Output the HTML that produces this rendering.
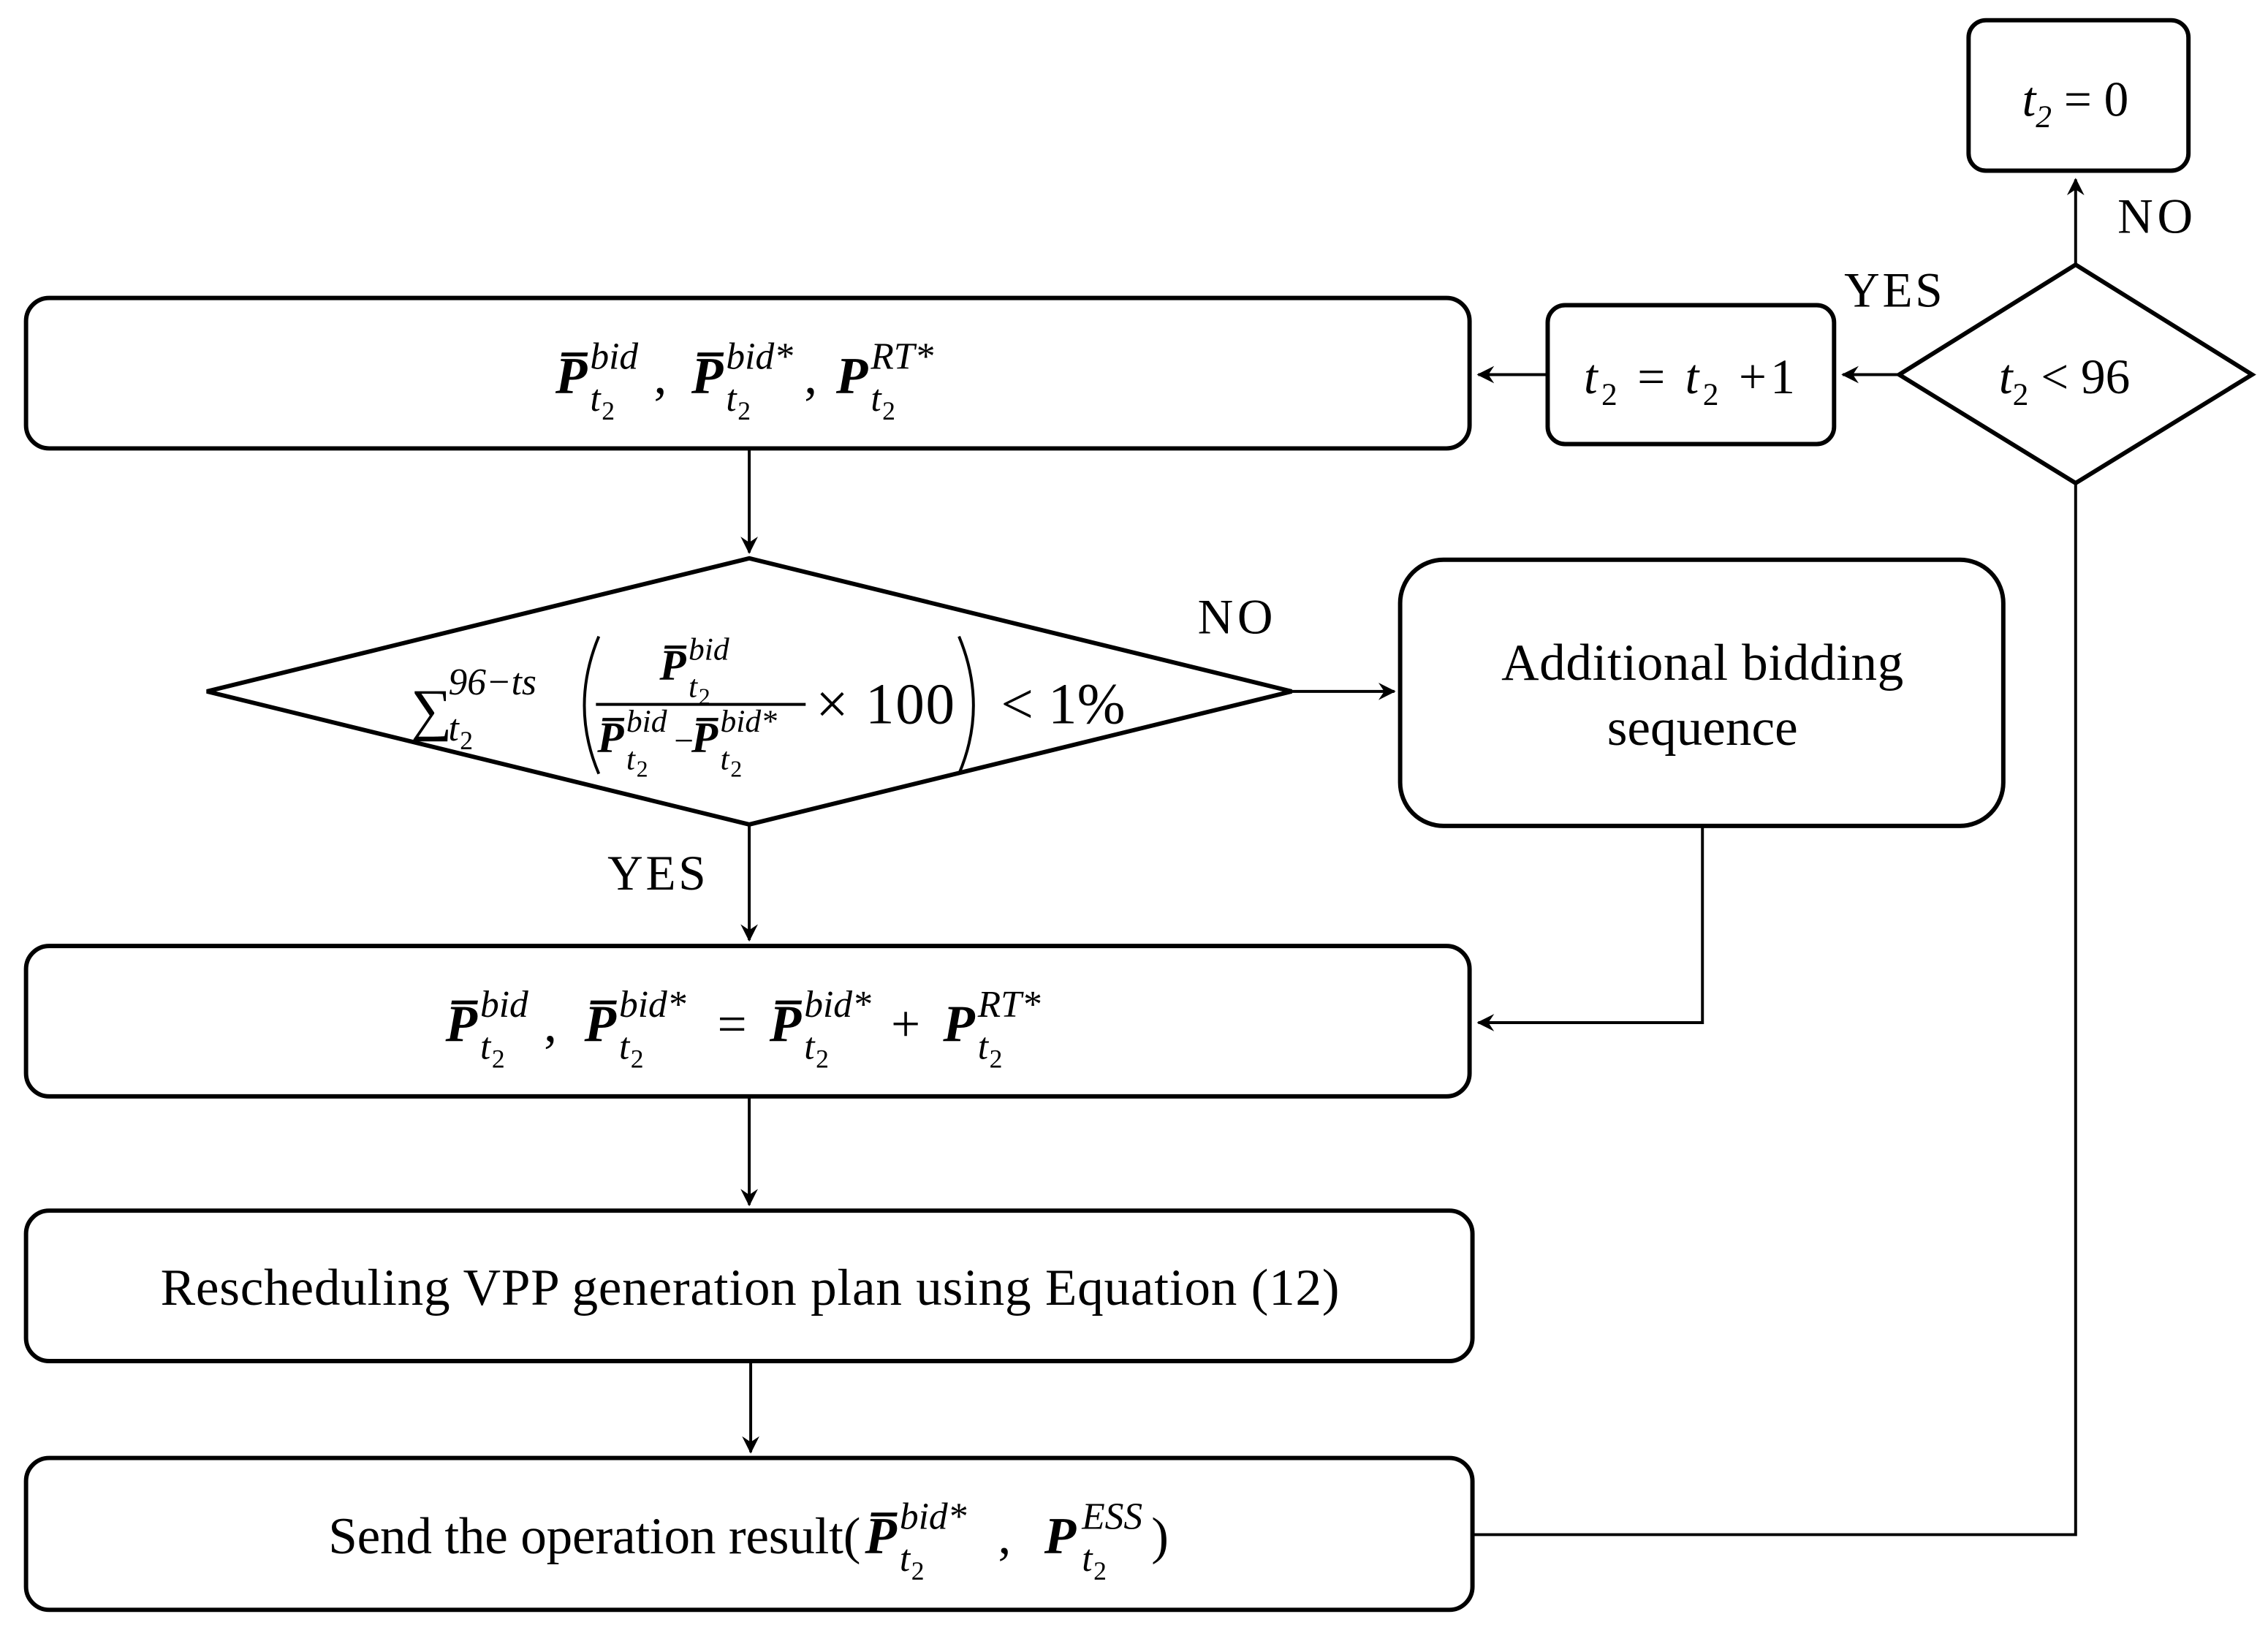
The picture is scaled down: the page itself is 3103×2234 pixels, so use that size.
<!DOCTYPE html>
<html><head><meta charset="utf-8"><style>
html,body{margin:0;padding:0;background:#fff;}
svg{display:block;}
text{font-family:"Liberation Serif",serif;fill:#000;}
.b{font-weight:bold;font-style:italic;}
.i{font-style:italic;}
</style></head><body>
<svg width="3103" height="2234" viewBox="0 0 1568 1129" preserveAspectRatio="none" xmlns="http://www.w3.org/2000/svg">
<defs>
<marker id="a" markerWidth="12" markerHeight="12" refX="11" refY="6" orient="auto" markerUnits="userSpaceOnUse">
<path d="M0,0 L12,6 L0,12 L4,6 Z" fill="#000"/>
</marker>
</defs>
<g fill="#fff" stroke="#000" stroke-width="3">
<rect x="1361" y="14" width="152" height="104" rx="12"/>
<polygon points="1435,183 1557,259 1435,334 1313,259"/>
<rect x="1070" y="211" width="198" height="96" rx="12"/>
<rect x="18" y="206" width="998" height="104" rx="16"/>
<polygon points="518,386 893,478 518,570 143,478"/>
<rect x="968" y="387" width="417" height="184" rx="30"/>
<rect x="18" y="654" width="998" height="104" rx="16"/>
<rect x="18" y="837" width="1000" height="104" rx="16"/>
<rect x="18" y="1008" width="1000" height="105" rx="16"/>
</g>
<g stroke="#000" stroke-width="2" fill="none">
<line x1="1435" y1="183" x2="1435" y2="124" marker-end="url(#a)"/>
<line x1="1313" y1="259" x2="1274" y2="259" marker-end="url(#a)"/>
<line x1="1070" y1="259" x2="1022" y2="259" marker-end="url(#a)"/>
<line x1="518" y1="310" x2="518" y2="382" marker-end="url(#a)"/>
<line x1="893" y1="478" x2="964" y2="478" marker-end="url(#a)"/>
<line x1="518" y1="570" x2="518" y2="650" marker-end="url(#a)"/>
<polyline points="1177,571 1177,707 1022,707" marker-end="url(#a)"/>
<line x1="518" y1="758" x2="518" y2="833" marker-end="url(#a)"/>
<line x1="519" y1="941" x2="519" y2="1004" marker-end="url(#a)"/>
<polyline points="1018,1061 1435,1061 1435,334"/>
<path d="M414,440 Q394,488 414,535"/>
<path d="M663,440 Q683,488 663,535"/>
<line x1="412" y1="487" x2="557" y2="487"/>
</g>
<text x="1464" y="161" font-size="34" textLength="52">NO</text>
<text x="1275" y="212" font-size="34" textLength="68">YES</text>
<text x="828" y="438" font-size="34" textLength="52">NO</text>
<text x="420" y="615" font-size="34" textLength="68">YES</text>

<text x="1398" y="80" font-size="34" class="i">t<tspan font-size="22" dy="8">2</tspan><tspan dy="-8" font-style="normal"> = 0</tspan></text>
<text x="1382" y="272" font-size="34" class="i">t<tspan font-size="22" dy="8" font-style="normal">2</tspan><tspan dy="-8" font-style="normal"> &lt; 96</tspan></text>
<text x="1095" y="272" font-size="34" class="i" textLength="146">t<tspan font-size="22" dy="8" font-style="normal">2</tspan><tspan dy="-8" font-style="normal"> = </tspan>t<tspan font-size="22" dy="8" font-style="normal">2</tspan><tspan dy="-8" font-style="normal"> +1</tspan></text>

<g font-size="36">
<text x="384" y="272" class="b">P̅</text>
<text x="408" y="255" class="i" font-size="26">bid</text>
<text x="408" y="284" class="i" font-size="26">t</text><text x="416" y="290" font-size="18">2</text>
<text x="452" y="272">,</text>
<text x="478" y="272" class="b">P̅</text>
<text x="502" y="255" class="i" font-size="26">bid*</text>
<text x="502" y="284" class="i" font-size="26">t</text><text x="510" y="290" font-size="18">2</text>
<text x="556" y="272">,</text>
<text x="578" y="272" class="b">P</text>
<text x="602" y="255" class="i" font-size="26">RT*</text>
<text x="602" y="284" class="i" font-size="26">t</text><text x="610" y="290" font-size="18">2</text>
</g>

<text x="284" y="504" font-size="40">∑</text>
<text x="310" y="480" class="i" font-size="26">96−ts</text>
<text x="310" y="512" class="i" font-size="26">t</text><text x="318" y="518" font-size="18">2</text>
<text x="456" y="470" class="b" font-size="30">P̅</text>
<text x="476" y="456" class="i" font-size="22">bid</text>
<text x="476" y="482" class="i" font-size="22">t</text><text x="483" y="487" font-size="16">2</text>
<text x="413" y="520" class="b" font-size="30">P̅</text>
<text x="433" y="506" class="i" font-size="22">bid</text>
<text x="433" y="532" class="i" font-size="22">t</text><text x="440" y="537" font-size="16">2</text>
<text x="466" y="520" font-size="24">−</text>
<text x="478" y="520" class="b" font-size="30">P̅</text>
<text x="498" y="506" class="i" font-size="22">bid*</text>
<text x="498" y="532" class="i" font-size="22">t</text><text x="505" y="537" font-size="16">2</text>
<text x="564" y="500" font-size="40" textLength="96">× 100</text>
<text x="692" y="500" font-size="40" textLength="86">&lt; 1%</text>

<text x="1038" y="470" font-size="36" textLength="278">Additional bidding</text>
<text x="1177" y="515" font-size="36" text-anchor="middle">sequence</text>

<g font-size="36">
<text x="308" y="720" class="b">P̅</text>
<text x="332" y="703" class="i" font-size="26">bid</text>
<text x="332" y="732" class="i" font-size="26">t</text><text x="340" y="738" font-size="18">2</text>
<text x="376" y="720">,</text>
<text x="404" y="720" class="b">P̅</text>
<text x="428" y="703" class="i" font-size="26">bid*</text>
<text x="428" y="732" class="i" font-size="26">t</text><text x="436" y="738" font-size="18">2</text>
<text x="496" y="720">=</text>
<text x="532" y="720" class="b">P̅</text>
<text x="556" y="703" class="i" font-size="26">bid*</text>
<text x="556" y="732" class="i" font-size="26">t</text><text x="564" y="738" font-size="18">2</text>
<text x="616" y="720">+</text>
<text x="652" y="720" class="b">P</text>
<text x="676" y="703" class="i" font-size="26">RT*</text>
<text x="676" y="732" class="i" font-size="26">t</text><text x="684" y="738" font-size="18">2</text>
</g>

<text x="111" y="902" font-size="36" textLength="815">Rescheduling VPP generation plan using Equation (12)</text>

<g font-size="36">
<text x="227" y="1074" textLength="368">Send the operation result(</text>
<text x="598" y="1074" class="b">P̅</text>
<text x="622" y="1057" class="i" font-size="26">bid*</text>
<text x="622" y="1086" class="i" font-size="26">t</text><text x="630" y="1092" font-size="18">2</text>
<text x="690" y="1074">,</text>
<text x="722" y="1074" class="b">P</text>
<text x="748" y="1057" class="i" font-size="26">ESS</text>
<text x="748" y="1086" class="i" font-size="26">t</text><text x="756" y="1092" font-size="18">2</text>
<text x="796" y="1074">)</text>
</g>
</svg>
</body></html>
